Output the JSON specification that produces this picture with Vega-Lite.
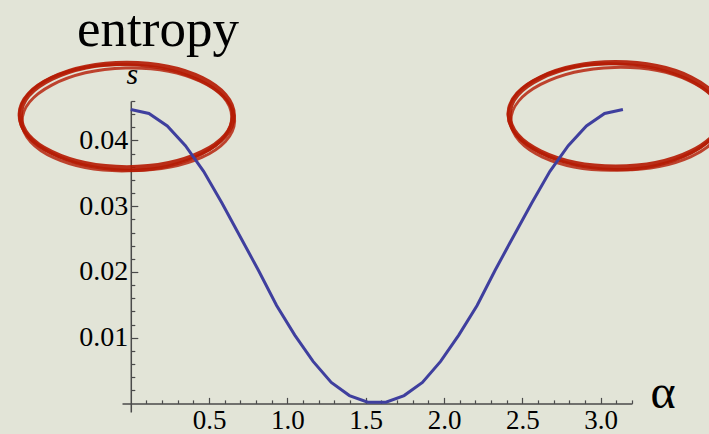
{
  "$schema": "https://vega.github.io/schema/vega-lite/v6.json",
  "width": 510,
  "height": 311,
  "autosize": {"type": "none"},
  "padding": {"left": 122, "top": 101, "right": 77, "bottom": 22},
  "background": "#e2e4d7",
  "config": {"view": {"stroke": null}, "axis": {"grid": false}},
  "title": {
    "text": "entropy",
    "anchor": "start",
    "frame": "group",
    "font": "Liberation Serif",
    "fontSize": 53,
    "fontWeight": "normal",
    "color": "#000000",
    "baseline": "alphabetic",
    "offset": 16,
    "dx": -45,
    "dy": 62
  },
  "datasets": {
    "curve": [
      {"alpha": 0.0, "s": 0.0447},
      {"alpha": 0.116, "s": 0.0441},
      {"alpha": 0.233, "s": 0.0422},
      {"alpha": 0.349, "s": 0.0392},
      {"alpha": 0.465, "s": 0.0353},
      {"alpha": 0.582, "s": 0.0305},
      {"alpha": 0.698, "s": 0.0254},
      {"alpha": 0.814, "s": 0.0203},
      {"alpha": 0.931, "s": 0.0149},
      {"alpha": 1.047, "s": 0.0104},
      {"alpha": 1.164, "s": 0.0064},
      {"alpha": 1.28, "s": 0.0032},
      {"alpha": 1.396, "s": 0.0012},
      {"alpha": 1.513, "s": 0.0002},
      {"alpha": 1.629, "s": 0.0002},
      {"alpha": 1.745, "s": 0.0012},
      {"alpha": 1.862, "s": 0.0032},
      {"alpha": 1.978, "s": 0.0064},
      {"alpha": 2.094, "s": 0.0104},
      {"alpha": 2.211, "s": 0.0149},
      {"alpha": 2.327, "s": 0.0203},
      {"alpha": 2.443, "s": 0.0254},
      {"alpha": 2.56, "s": 0.0305},
      {"alpha": 2.676, "s": 0.0353},
      {"alpha": 2.793, "s": 0.0392},
      {"alpha": 2.909, "s": 0.0422},
      {"alpha": 3.025, "s": 0.0441},
      {"alpha": 3.142, "s": 0.0447}
    ],
    "rings": [
      {"alpha": -0.025, "s": 0.0438},
      {"alpha": 3.096, "s": 0.0439}
    ]
  },
  "encoding": {
    "x": {
      "field": "alpha",
      "type": "quantitative",
      "scale": {"domain": [-0.056, 3.2], "nice": false, "zero": false},
      "axis": {
        "orient": "bottom",
        "offset": -8.6,
        "values": [0.1, 0.2, 0.3, 0.4, 0.5, 0.6, 0.7, 0.8, 0.9, 1.0, 1.1, 1.2, 1.3, 1.4, 1.5, 1.6, 1.7, 1.8, 1.9, 2.0, 2.1, 2.2, 2.3, 2.4, 2.5, 2.6, 2.7, 2.8, 2.9, 3.0, 3.1, 3.2],
        "title": "α",
        "titleFont": "Liberation Serif",
        "titleFontSize": 48,
        "titleFontWeight": "normal",
        "titleColor": "#000000",
        "titleAngle": 0,
        "titleAlign": "left",
        "titleBaseline": "alphabetic",
        "titleX": 528,
        "titleY": 4,
        "domainColor": "#4a4a4a",
        "domainWidth": 1.5,
        "tickColor": "#4a4a4a",
        "tickWidth": 1.2,
        "tickSize": {"condition": {"test": "round(datum.value*10) % 5 == 0", "value": -6}, "value": -3.5},
        "labelExpr": "round(datum.value*10) % 5 == 0 ? format(datum.value, '.1f') : ''",
        "labelFont": "Liberation Serif",
        "labelFontSize": 27,
        "labelColor": "#000000",
        "labelPadding": 10,
        "labelOverlap": false,
        "labelFlush": false,
        "labelBound": false
      }
    },
    "y": {
      "field": "s",
      "type": "quantitative",
      "scale": {"domain": [-0.0013, 0.046], "nice": false, "zero": false},
      "axis": {
        "orient": "left",
        "offset": -8.8,
        "values": [0.002, 0.004, 0.006, 0.008, 0.01, 0.012, 0.014, 0.016, 0.018, 0.02, 0.022, 0.024, 0.026, 0.028, 0.03, 0.032, 0.034, 0.036, 0.038, 0.04, 0.042, 0.044, 0.046],
        "title": "s",
        "titleFont": "Liberation Serif",
        "titleFontStyle": "italic",
        "titleFontWeight": "normal",
        "titleFontSize": 30,
        "titleColor": "#000000",
        "titleAngle": 0,
        "titleAlign": "center",
        "titleBaseline": "alphabetic",
        "titleX": 1,
        "titleY": -18,
        "domainColor": "#4a4a4a",
        "domainWidth": 1.5,
        "tickColor": "#4a4a4a",
        "tickWidth": 1.2,
        "tickSize": {"condition": {"test": "round(datum.value*1000) % 10 == 0", "value": -7}, "value": -4},
        "labelExpr": "round(datum.value*1000) % 10 == 0 ? format(datum.value, '.2f') : ''",
        "labelFont": "Liberation Serif",
        "labelFontSize": 28,
        "labelColor": "#000000",
        "labelPadding": 10,
        "labelOverlap": false,
        "labelFlush": false,
        "labelBound": false
      }
    }
  },
  "layer": [
    {
      "data": {"name": "rings"},
      "mark": {
        "type": "point",
        "shape": "M-1,0 C-1,-0.2706 -0.5523,-0.49 0,-0.49 C0.5523,-0.49 1,-0.2706 1,0 C1,0.2706 0.5523,0.49 0,0.49 C-0.5523,0.49 -1,0.2706 -1,0 Z",
        "size": 45369,
        "filled": false,
        "color": "#b51a03",
        "strokeWidth": 5,
        "opacity": 0.9
      }
    },
    {
      "data": {"name": "rings"},
      "mark": {
        "type": "point",
        "shape": "M-1,0 C-1,-0.2706 -0.5523,-0.49 0,-0.49 C0.5523,-0.49 1,-0.2706 1,0 C1,0.2706 0.5523,0.49 0,0.49 C-0.5523,0.49 -1,0.2706 -1,0 Z",
        "size": 46500,
        "angle": 2,
        "yOffset": 2,
        "filled": false,
        "color": "#b51a03",
        "strokeWidth": 3,
        "opacity": 0.8
      }
    },
    {
      "data": {"name": "rings"},
      "mark": {
        "type": "point",
        "shape": "M-1,0 C-1,-0.2706 -0.5523,-0.49 0,-0.49 C0.5523,-0.49 1,-0.2706 1,0 C1,0.2706 0.5523,0.49 0,0.49 C-0.5523,0.49 -1,0.2706 -1,0 Z",
        "size": 44000,
        "angle": -1.5,
        "yOffset": 4,
        "filled": false,
        "color": "#b51a03",
        "strokeWidth": 3,
        "opacity": 0.8
      }
    },
    {
      "data": {"name": "curve"},
      "mark": {"type": "line", "color": "#3f3f9e", "strokeWidth": 3, "interpolate": "linear"}
    }
  ]
}
